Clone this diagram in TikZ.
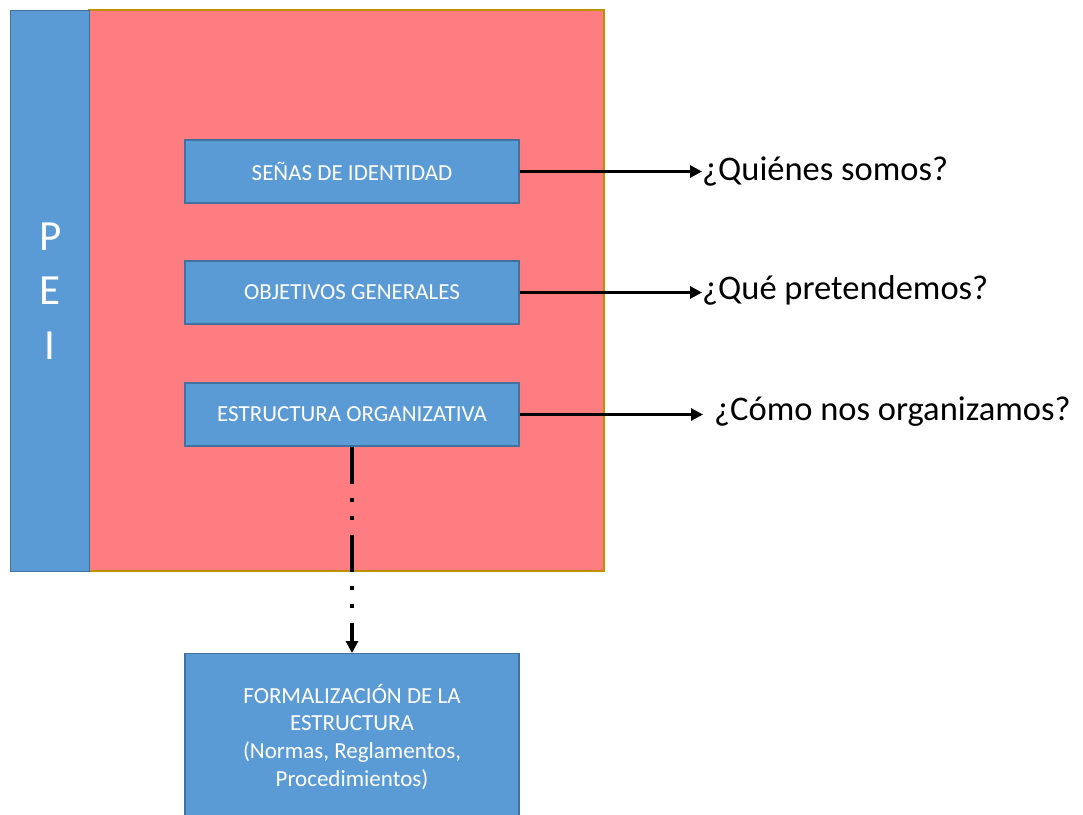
\documentclass[tikz,border=0pt]{standalone}
\usepackage{fontspec}
\setmainfont{Carlito}
\usetikzlibrary{arrows.meta}
\definecolor{peiblue}{HTML}{5B9BD5}
\definecolor{peiborde}{HTML}{41719C}
\definecolor{peirojo}{HTML}{FF7C80}
\definecolor{peioro}{HTML}{BF9000}
\tikzset{
  caja/.style={draw=peiborde, fill=peiblue, line width=1.3pt, text=white, inner sep=0pt,
    minimum width=334pt, minimum height=63pt, align=center, font=\fontsize{23}{27.7}\selectfont},
  flecha/.style={line width=3.5pt, -{Triangle[length=12pt,width=12pt]}},
  pregunta/.style={anchor=west, inner sep=0pt, font=\fontsize{34.5}{40}\selectfont}
}

\begin{document}
\begin{tikzpicture}[x=1pt,y=-1pt]
			\useasboundingbox (0,0) rectangle (1083,814);
			%%%%% START %%%%%
			
			\draw[fill=peirojo, draw=peioro, line width=1.5pt] (89, 10) rectangle (604, 571);
			\node[caja, minimum width=79pt, minimum height=561pt, anchor=north west,
			      font=\fontsize{43}{54.5}\selectfont] (pei) at (10, 10) {P\\E\\I};
			
			\node[caja] (senas) at (352, 171.5) {SEÑAS DE IDENTIDAD};
			\node[caja] (objetivos) at (352, 292.5) {OBJETIVOS GENERALES};
			\node[caja] (estructura) at (352, 414.5) {ESTRUCTURA ORGANIZATIVA};
			\node[caja, minimum height=166pt, anchor=north] (formal) at (352, 653)
			     {FORMALIZACIÓN DE LA\\ESTRUCTURA\\(Normas, Reglamentos,\\Procedimientos)};
			
			\node[pregunta] (quienes) at (702, 172) {¿Quiénes somos?};
			\node[pregunta] (pretendemos) at (702, 290) {¿Qué pretendemos?};
			\node[pregunta] (organizamos) at (714, 412) {¿Cómo nos organizamos?};
			
			\draw[flecha] (senas.east) -- (senas.east -| quienes.west);
			\draw[flecha] (objetivos.east) -- (objetivos.east -| pretendemos.west);
			\draw[flecha, shorten >=11pt] (estructura.east) -- (estructura.east -| organizamos.west);
			
			\draw[flecha, dash pattern=on 37pt off 14pt on 4pt off 14pt on 4pt off 15pt]
			     (estructura.south) -- (formal.north);
			
			%%%%% END %%%%%
\end{tikzpicture}
\end{document}
